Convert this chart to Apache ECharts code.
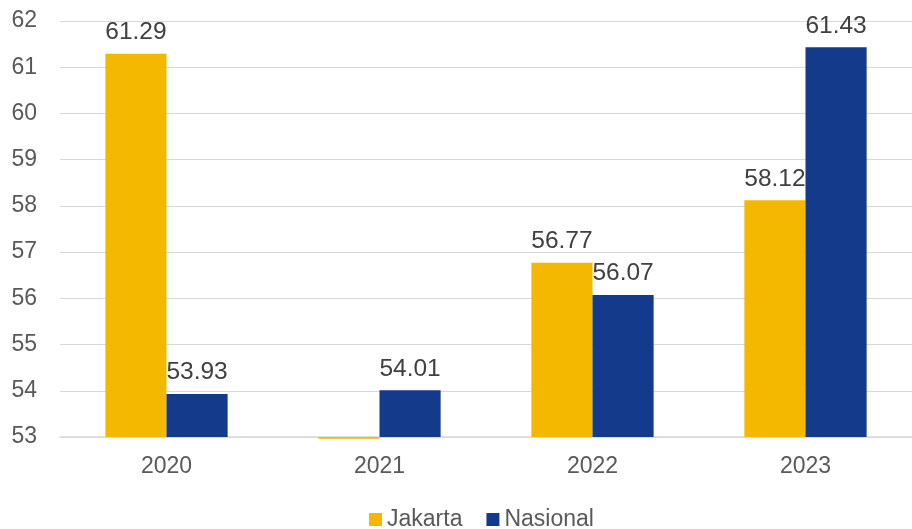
<!DOCTYPE html>
<html><head><meta charset="utf-8">
<script src="https://cdn.jsdelivr.net/npm/echarts@6/dist/echarts.min.js"></script>
<style>html,body{margin:0;padding:0;background:#fff}#c{width:912px;height:529px}</style>
</head><body><div id="c"></div>
<script>
const categories = ['2020', '2021', '2022', '2023'];
const jakarta = [61.29, 52.96, 56.77, 58.12];
const nasional = [53.93, 54.01, 56.07, 61.43];
const jakartaLabelShown = [true, false, true, true];
const axisMin = 53;

const font = 'Liberation Sans';
const chart = echarts.init(document.getElementById('c'));
const labelStyle = (vals) => ({
  show: true, position: 'top', distance: 9, color: '#404040', fontSize: 24.5, fontFamily: font,
  formatter: p => vals[p.dataIndex].toFixed(2)
});
const baseSeries = (stack) => ({
  name: 'base-' + stack, type: 'bar', stack: stack, stackStrategy: 'all',
  itemStyle: {color: 'transparent'}, silent: true,
  data: categories.map(() => axisMin)
});
chart.setOption({
  animation: false,
  grid: {left: 60, right: -8, top: 21, bottom: 92},
  legend: {
    top: 503, left: 364, itemWidth: 13, itemHeight: 13, itemGap: 24, itemTextGap: 5,
    icon: 'rect',
    textStyle: {color: '#595959', fontSize: 23, fontFamily: font},
    data: ['Jakarta', 'Nasional']
  },
  xAxis: {
    type: 'category', data: categories,
    axisLine: {lineStyle: {color: '#d9d9d9', width: 1.5}},
    axisTick: {show: false},
    axisLabel: {color: '#595959', fontSize: 23, fontFamily: font, margin: 18}
  },
  yAxis: {
    type: 'value', min: axisMin, max: 62, interval: 1,
    axisLine: {show: false}, axisTick: {show: false},
    axisLabel: {color: '#595959', fontSize: 23, fontFamily: font, margin: 23},
    splitLine: {lineStyle: {color: '#d9d9d9', width: 1}}
  },
  series: [
    Object.assign(baseSeries('j'), {barGap: '0%', barCategoryGap: '42.6%'}),
    {
      name: 'Jakarta', type: 'bar', stack: 'j', stackStrategy: 'all', clip: false,
      itemStyle: {color: '#F4B800'},
      label: labelStyle(jakarta),
      data: jakarta.map((v, i) => ({value: v - axisMin, label: {show: jakartaLabelShown[i]}}))
    },
    baseSeries('n'),
    {
      name: 'Nasional', type: 'bar', stack: 'n', stackStrategy: 'all', clip: false,
      itemStyle: {color: '#143A8C'},
      label: labelStyle(nasional),
      data: nasional.map(v => v - axisMin)
    }
  ]
});
</script></body></html>
